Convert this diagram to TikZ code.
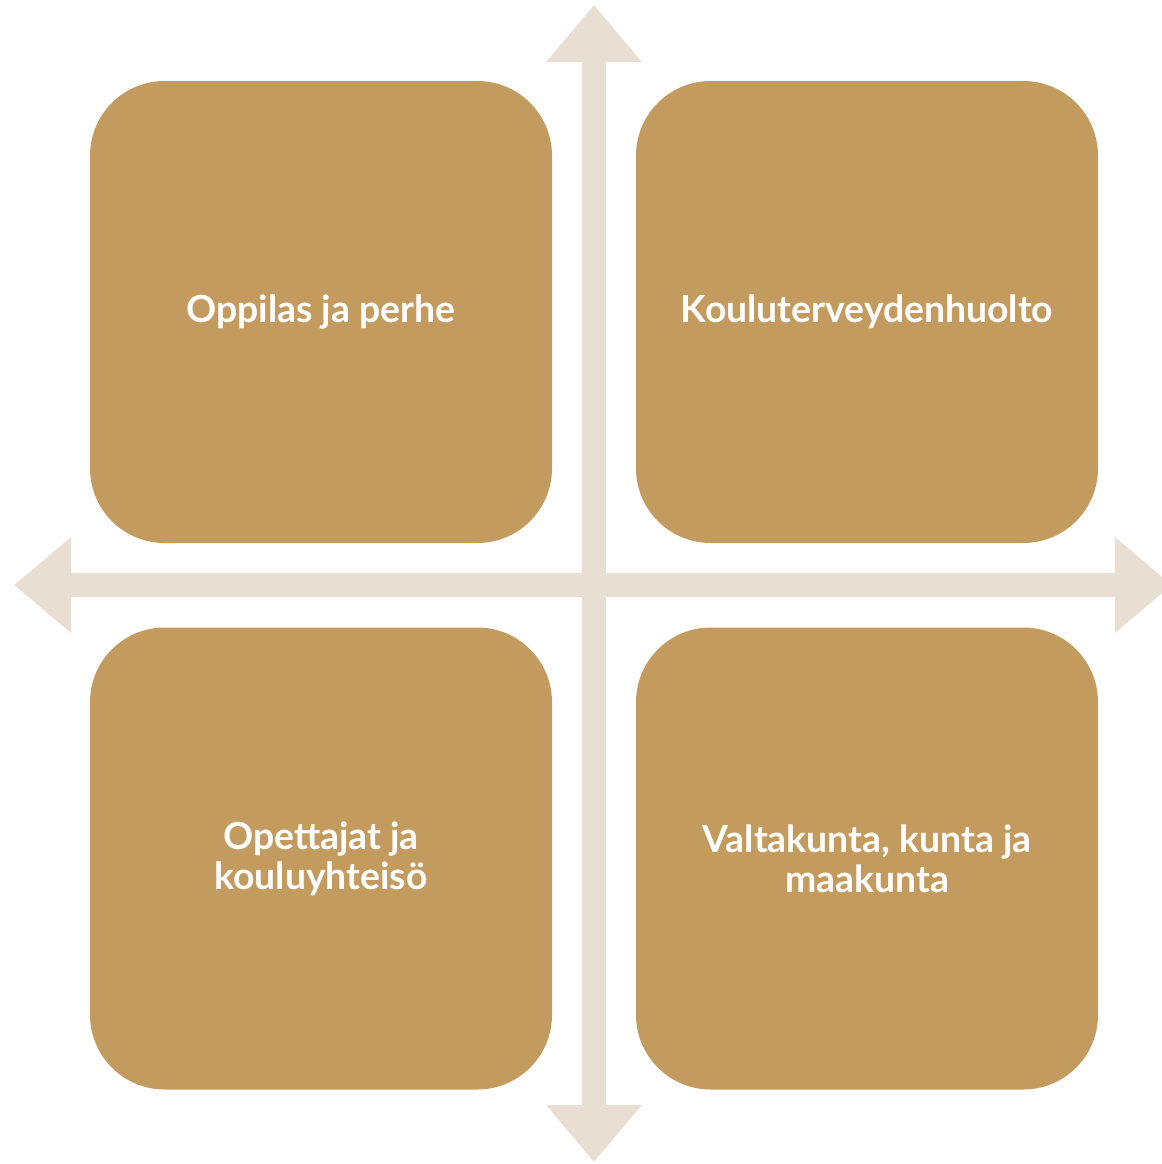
\documentclass[tikz,border=0pt]{standalone}
\usepackage{fontspec}
\setmainfont{Lato}
\usepackage{tikz}
\usetikzlibrary{arrows.meta}
\usetikzlibrary{positioning}
\definecolor{boxgold}{HTML}{C39B5E}
\definecolor{crossbeige}{HTML}{E8DED2}
\tikzstyle{quad}=[rounded corners=56pt, fill=boxgold, text=white,
    minimum width=346.5pt, minimum height=346.5pt, inner sep=0pt,
    align=center, font=\fontsize{28}{30}\selectfont\bfseries]
\tikzstyle{axis}=[draw=crossbeige, line width=18pt,
    -{Triangle[length=42.75pt, width=69pt, fill=crossbeige]}]

\begin{document}
\begin{tikzpicture}[x=0.75pt, y=-0.75pt]
\useasboundingbox (0,0) rectangle (1161,1164);
\coordinate (mid) at (594,585);
\coordinate (top) at (594,5);
\coordinate (bottom) at (594,1162);
\coordinate (left) at (14,585);
\coordinate (right) at (1172,585);
\draw[axis](mid) -- (top);
\draw[axis](mid) -- (bottom);
\draw[axis](mid) -- (left);
\draw[axis](mid) -- (right);
\node[quad] (oppilas) at (321,312){\raisebox{-2pt}{Oppilas ja perhe}};
\node[quad] (huolto) at (867,312){\raisebox{-2pt}{Kouluterveydenhuolto}};
\node[quad] (opettajat) at (321,858.5){Opettajat ja\\kouluyhteisö};
\node[quad] (valtakunta) at (867,858.5){Valtakunta, kunta ja\\maakunta};
\end{tikzpicture}
\end{document}
